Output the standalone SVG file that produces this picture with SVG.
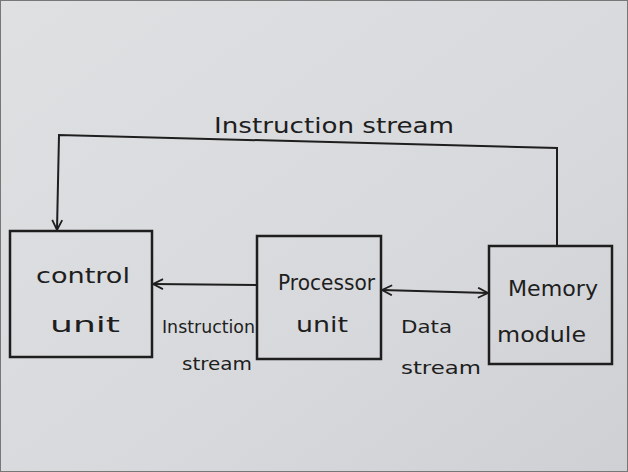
<svg xmlns="http://www.w3.org/2000/svg" width="628" height="472" viewBox="0 0 628 472">
<style>
.box{fill:none;stroke:#1e1e1e;stroke-width:2.5}
.ln{fill:none;stroke:#1e1e1e;stroke-width:2}
.t{font-family:"DejaVu Sans","Liberation Sans",sans-serif;font-size:21px;fill:#1e1e1e}
.s{font-size:18px}
</style>
<defs>
<linearGradient id="bg" x1="0" y1="0" x2="1" y2="1">
<stop offset="0" stop-color="#dfe0e2"/>
<stop offset="0.6" stop-color="#d8d9dc"/>
<stop offset="1" stop-color="#cfd0d3"/>
</linearGradient>
<marker id="ah" viewBox="0 0 12 12" refX="11" refY="6" markerWidth="12" markerHeight="12" markerUnits="userSpaceOnUse" orient="auto-start-reverse">
<path d="M1 1 L11 6 L1 11" fill="none" stroke="#1e1e1e" stroke-width="1.8"/>
</marker>
</defs>
<rect x="0" y="0" width="628" height="472" fill="url(#bg)"/>
<rect x="0.5" y="0.5" width="627" height="471" fill="none" stroke="#777" stroke-width="1"/>
<g id="control-unit">
<rect class="box" x="10" y="231" width="142" height="126"/>
<text class="t" x="36" y="283" textLength="94" lengthAdjust="spacingAndGlyphs">control</text>
<text class="t" x="50" y="332" textLength="70" lengthAdjust="spacingAndGlyphs">unit</text>
</g>
<g id="processor-unit">
<rect class="box" x="257" y="236" width="124" height="123"/>
<text class="t" x="278" y="290" textLength="97" lengthAdjust="spacingAndGlyphs">Processor</text>
<text class="t" x="296" y="332" textLength="52" lengthAdjust="spacingAndGlyphs">unit</text>
</g>
<g id="memory-module">
<rect class="box" x="489" y="246" width="123" height="118"/>
<text class="t" x="508" y="296" textLength="90" lengthAdjust="spacingAndGlyphs">Memory</text>
<text class="t" x="497" y="342" textLength="89" lengthAdjust="spacingAndGlyphs">module</text>
</g>
<g id="connectors">
<polyline class="ln" points="557,246 557,148 59,135 57,230" marker-end="url(#ah)"/>
<line class="ln" x1="256" y1="285" x2="153" y2="284" marker-end="url(#ah)"/>
<line class="ln" x1="382" y1="290" x2="488" y2="293" marker-start="url(#ah)" marker-end="url(#ah)"/>
</g>
<g id="labels">
<text class="t" x="214" y="133" textLength="240" lengthAdjust="spacingAndGlyphs">Instruction stream</text>
<text class="t s" x="162" y="333" textLength="93" lengthAdjust="spacingAndGlyphs">Instruction</text>
<text class="t s" x="182" y="370" textLength="70" lengthAdjust="spacingAndGlyphs">stream</text>
<text class="t s" x="401" y="333" textLength="51" lengthAdjust="spacingAndGlyphs">Data</text>
<text class="t s" x="401" y="374" textLength="80" lengthAdjust="spacingAndGlyphs">stream</text>
</g>
</svg>
